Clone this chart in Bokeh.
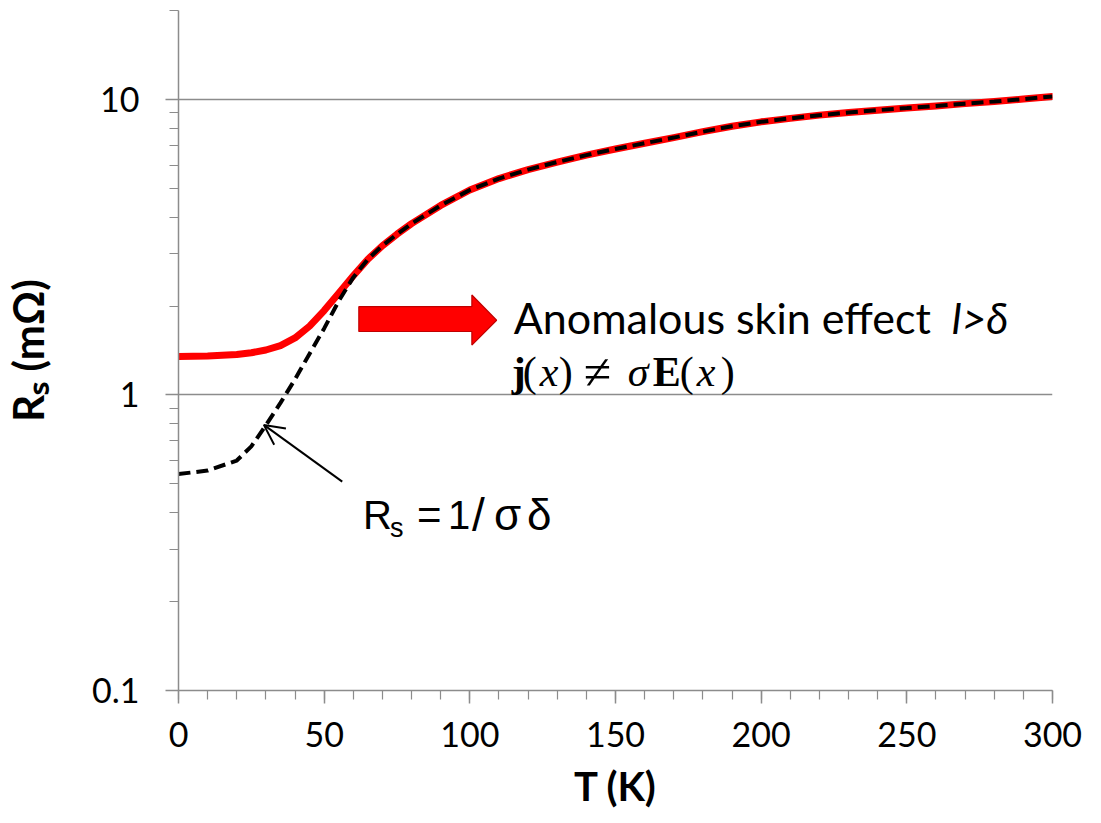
from bokeh.plotting import figure
from bokeh.models import (FixedTicker, SingleIntervalTicker, ColumnDataSource,
                          Arrow, OpenHead)
from bokeh.core.properties import value
from bokeh.embed import file_html
from bokeh.resources import INLINE

# Surface resistance vs temperature
temperature_K = [0, 10, 20, 25, 30, 35, 40, 45, 50, 55, 60, 65, 70, 75, 80, 90,
                 100, 110, 120, 130, 140, 150, 160, 170, 180, 190, 200, 210,
                 220, 230, 240, 250, 260, 270, 280, 290, 300]

# measured Rs (anomalous regime at low T)
rs_measured = [1.35, 1.355, 1.37, 1.39, 1.42, 1.47, 1.56, 1.71, 1.93, 2.21, 2.53,
               2.88, 3.20, 3.50, 3.80, 4.38, 4.94, 5.40, 5.79, 6.14, 6.48, 6.80,
               7.11, 7.43, 7.78, 8.12, 8.40, 8.63, 8.85, 9.03, 9.20, 9.35, 9.51,
               9.68, 9.84, 10.03, 10.24]

# classical skin effect Rs = 1/(sigma*delta)
rs_classical = [0.54, 0.555, 0.60, 0.67, 0.79, 0.94, 1.13, 1.38, 1.68, 2.08, 2.50,
                2.88, 3.20, 3.50, 3.80, 4.38, 4.94, 5.40, 5.79, 6.14, 6.48, 6.80,
                7.11, 7.43, 7.78, 8.12, 8.40, 8.63, 8.85, 9.03, 9.20, 9.35, 9.51,
                9.68, 9.84, 10.03, 10.24]

y_major = [0.1, 1, 10]
y_minor = [0.2, 0.3, 0.4, 0.5, 0.6, 0.7, 0.8, 0.9,
           2, 3, 4, 5, 6, 7, 8, 9, 20]
y_labels = {0.1: "0.1", 1: "1", 10: "10"}

AXIS_GRAY = "#8c8c8c"
LABEL_FONT = "Lato"

p = figure(width=1101, height=823, output_backend="svg", toolbar_location=None,
           x_range=(0, 300), y_range=(0.1, 20), y_axis_type="log",
           min_border_left=176, min_border_right=49,
           min_border_top=10, min_border_bottom=133)
p.outline_line_color = None
p.background_fill_color = "white"
p.border_fill_color = "white"

# axes
p.xaxis.ticker = SingleIntervalTicker(interval=50, num_minor_ticks=5)
p.yaxis.ticker = FixedTicker(ticks=y_major, minor_ticks=y_minor)
p.yaxis.major_label_overrides = y_labels

for ax in (p.xaxis[0], p.yaxis[0]):
    ax.axis_line_color = AXIS_GRAY
    ax.axis_line_width = 1.5
    ax.major_tick_line_color = AXIS_GRAY
    ax.minor_tick_line_color = AXIS_GRAY
    ax.major_tick_line_width = 1.5
    ax.minor_tick_line_width = 1.2
    ax.major_tick_in = 0
    ax.minor_tick_in = 0
    ax.major_tick_out = 13
    ax.minor_tick_out = 9
    ax.major_label_text_font = LABEL_FONT
    ax.major_label_text_font_size = "34px"
    ax.major_label_text_color = "black"
    ax.axis_label_text_font = LABEL_FONT
    ax.axis_label_text_font_style = "bold"
    ax.axis_label_text_font_size = "40px"
    ax.axis_label_text_color = "black"

p.xaxis.axis_label = "T (K)"
p.xaxis.major_label_standoff = 18
p.xaxis.axis_label_standoff = 12
p.yaxis.axis_label = "R\u209b (m\u03a9)"
p.yaxis.axis_label_text_font_size = "42px"
p.yaxis.major_label_standoff = 26
p.yaxis.axis_label_standoff = 36

p.xgrid.visible = False
p.ygrid.grid_line_color = AXIS_GRAY
p.ygrid.grid_line_width = 1.5
p.ygrid.minor_grid_line_color = None

# curves
p.line(temperature_K, rs_measured, line_color="#ff0000", line_width=7,
       line_join="round", line_cap="round")
p.line(temperature_K, rs_classical, line_color="black", line_width=4,
       line_dash="12 6")

# block arrow pointing at the anomalous-skin-effect note
p.patch(x=[61.9, 100.7, 100.7, 109.2, 100.7, 100.7, 61.9],
        y=[1.99, 1.99, 2.18, 1.79, 1.475, 1.64, 1.64],
        fill_color="#ff0000", line_color="#c00000", line_width=1.2)

# thin arrow pointing at the classical curve
p.add_layout(Arrow(end=OpenHead(size=20, line_width=2, line_color="black"),
                   x_start=56.2, y_start=0.509, x_end=29.3, y_end=0.792,
                   line_width=2, line_color="black"))

# annotation text (pieces so that fonts and styles can differ)
note = ColumnDataSource(dict(
    x=[115.07, 115.07],
    y=[1.834, 1.834],
    dx=[0, 438],
    text=["Anomalous skin effect", "l>\u03b4"],
    style=["normal", "italic"],
))
p.text(x="x", y="y", x_offset="dx", text="text", source=note,
       text_font=value(LABEL_FONT), text_font_style="style",
       text_font_size="43px", text_color="black",
       text_baseline="alphabetic", text_align="left")

formula = ColumnDataSource(dict(
    x=[115.07] * 10,
    y=[1.196] * 10,
    dx=[-2, 9, 26, 45, 70, 114, 139, 166, 183, 207],
    size=["42px", "42px", "42px", "42px", "50px", "42px", "42px", "42px",
          "42px", "42px"],
    text=["j", "(", "x", ")", "\u2260", "\u03c3", "E", "(", "x", ")"],
    style=["bold", "normal", "italic", "normal", "normal", "italic", "bold",
           "normal", "italic", "normal"],
))
p.text(x="x", y="y", x_offset="dx", text="text", source=formula,
       text_font=value("Liberation Serif"), text_font_style="style",
       text_font_size="size", text_color="black",
       text_baseline="alphabetic", text_align="left")

rs_text = ColumnDataSource(dict(
    x=[63.7] * 7,
    y=[0.393, 0.355, 0.393, 0.393, 0.393, 0.393, 0.393],
    dx=[-1, 26, 53, 84, 108, 130, 163],
    size=["40px", "27px", "42px", "40px", "46px", "44px", "44px"],
    text=["R", "s", "=", "1", "/", "\u03c3", "\u03b4"],
))
p.text(x="x", y="y", x_offset="dx", text="text", source=rs_text,
       text_font=value("Liberation Sans"), text_font_size="size",
       text_color="black", text_baseline="alphabetic", text_align="left")

open("out.html", "w").write(file_html(p, INLINE))
